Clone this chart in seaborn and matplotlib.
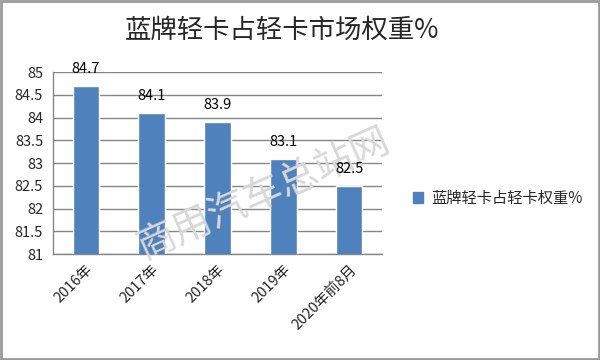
import matplotlib.pyplot as plt
import seaborn as sns
import pandas as pd
from matplotlib.patches import Rectangle, Patch

years = ['2016年', '2017年', '2018年', '2019年', '2020年前8月']
share = [84.7, 84.1, 83.9, 83.1, 82.5]
series_name = '蓝牌轻卡占轻卡权重%'
title = '蓝牌轻卡占轻卡市场权重%'
watermark = '商用汽车总站网'

df = pd.DataFrame({'year': years, 'share': share})

sns.set_style('white')
plt.rcParams['font.family'] = ['Noto Sans CJK SC', 'DejaVu Sans']

fig = plt.figure(figsize=(6, 3.6), dpi=100)
ax = fig.add_axes([0.088, 0.294, 0.549, 0.506])

bar_color = '#4F81BD'
sns.barplot(data=df, x='year', y='share', color=bar_color, width=0.4,
            saturation=1, ax=ax, zorder=3)
for c in ax.containers:
    txts = ax.bar_label(c, labels=[f'{v:.1f}' for v in share], padding=7,
                        fontsize=10.5, color='#000000')
    for t in txts:
        t.set_zorder(6)

ax.set_ylim(81, 85)
ax.set_yticks([81, 81.5, 82, 82.5, 83, 83.5, 84, 84.5, 85])
ax.set_yticklabels(['81', '81.5', '82', '82.5', '83', '83.5', '84', '84.5', '85'])
ax.set_xlim(-0.5, 4.5)
ax.yaxis.grid(True, color='#868686', linewidth=1, zorder=0)
ax.set_xlabel('')
ax.set_ylabel('')

ax.set_xticks([-0.5, 0.5, 1.5, 2.5, 3.5, 4.5], minor=True)
ax.tick_params(axis='x', which='major', length=0, pad=6)
ax.tick_params(axis='x', which='minor', length=5, color='#868686', width=1)
ax.tick_params(axis='y', length=5, color='#868686', width=1, labelsize=10.5, pad=2)
for lab in ax.get_xticklabels():
    lab.set_rotation(45)
    lab.set_ha('right')
    lab.set_rotation_mode('anchor')
    lab.set_fontsize(10.5)

for s in ['top', 'right']:
    ax.spines[s].set_visible(False)
for s in ['left', 'bottom']:
    ax.spines[s].set_color('#868686')
    ax.spines[s].set_linewidth(1)

fig.text(0.47, 0.915, title, ha='center', va='center', fontsize=19,
         fontweight='medium')

ax.text(0.44, 0.46, watermark, ha='center', va='center', fontsize=28,
        rotation=24, color='#d8d8d8', fontweight='light', zorder=5,
        transform=fig.transFigure, clip_on=False)

handles = [Patch(facecolor=bar_color, edgecolor=bar_color)]
fig.legend(handles, [series_name], loc='center left',
           bbox_to_anchor=(0.665, 0.45), frameon=False, fontsize=11,
           handlelength=0.7, handleheight=0.7, handletextpad=0.5)

fig.patches.append(Rectangle((0.002, 0.003), 0.996, 0.994, transform=fig.transFigure,
                             fill=False, edgecolor='#9a9a9a', linewidth=2))

fig.savefig('out.png', dpi=100)
